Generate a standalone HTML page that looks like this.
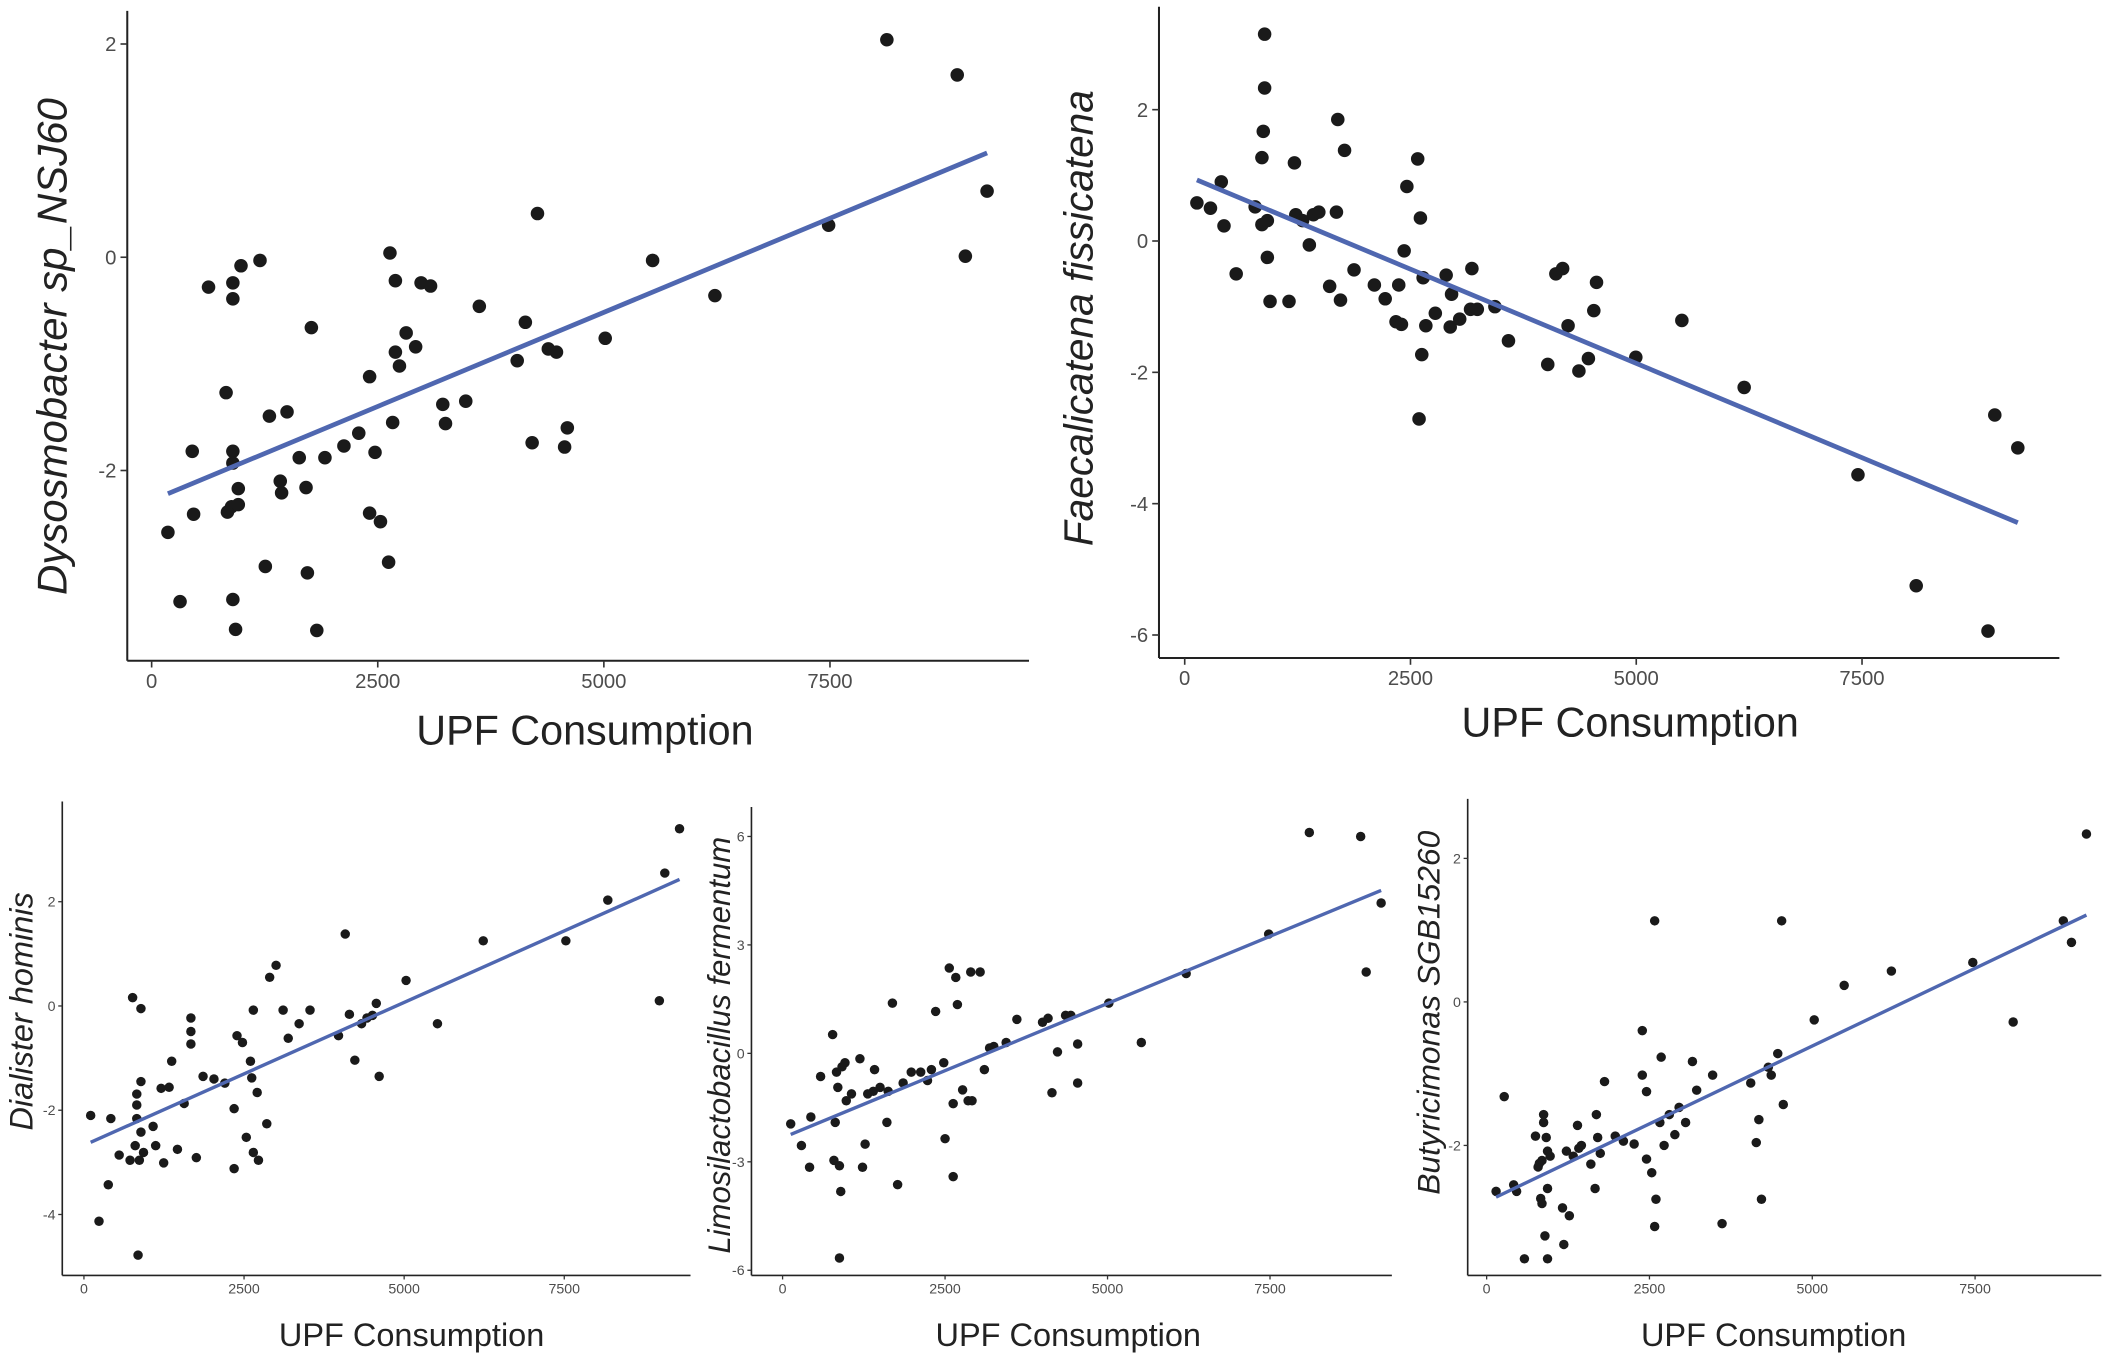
<!DOCTYPE html>
<html><head><meta charset="utf-8"><style>
html,body{margin:0;padding:0;background:#fff;}
svg{display:block;font-family:"Liberation Sans",sans-serif;}
</style></head><body>
<svg id="chart" width="2123" height="1358" viewBox="0 0 1568 1003" preserveAspectRatio="none" xmlns="http://www.w3.org/2000/svg">
<rect width="1568" height="1003" fill="#fff"/>
</svg>
<script>
const xTicks = [0, 2500, 5000, 7500];
const xTickLabels = ["0", "2500", "5000", "7500"];
const xTitle = "UPF Consumption";

const p1X = [180,314,449,464,629,823,838,883,898,898,898,898,928,958,958,988,898,1198,1257,1302,1422,1437,1497,1632,1707,1722,1766,1826,1916,2126,2290,2410,2410,2470,2530,2620,2635,2665,2695,2695,2740,2814,2919,2979,3084,3219,3249,3473,3623,4042,4132,4207,4266,4386,4476,4566,4596,5015,5539,6228,7485,8129,8907,8997,9237];
const p1Y = [-2.58,-3.23,-1.82,-2.41,-0.28,-1.27,-2.39,-2.34,-1.82,-0.24,-0.39,-3.21,-3.49,-2.32,-2.17,-0.08,-1.93,-0.03,-2.90,-1.49,-2.10,-2.21,-1.45,-1.88,-2.16,-2.96,-0.66,-3.50,-1.88,-1.77,-1.65,-1.12,-2.40,-1.83,-2.48,-2.86,0.04,-1.55,-0.22,-0.89,-1.02,-0.71,-0.84,-0.24,-0.27,-1.38,-1.56,-1.35,-0.46,-0.97,-0.61,-1.74,0.41,-0.86,-0.89,-1.78,-1.60,-0.76,-0.03,-0.36,0.30,2.04,1.71,0.01,0.62];
const p1YTicks = [2, 0, -2];

const p2X = [135,285,405,435,570,780,855,855,870,885,885,915,915,945,1155,1215,1230,1305,1380,1425,1485,1605,1680,1695,1725,1770,1875,2100,2220,2340,2370,2400,2430,2460,2595,2580,2610,2625,2640,2670,2775,2895,2940,2955,3045,3165,3180,3240,3435,3585,4020,4110,4185,4245,4365,4470,4530,4560,4995,5505,6195,7455,8100,8895,8970,9225];
const p2Y = [0.58,0.50,0.90,0.23,-0.50,0.52,1.27,0.25,1.67,2.33,3.15,-0.25,0.31,-0.92,-0.92,1.19,0.40,0.31,-0.06,0.40,0.44,-0.69,0.44,1.85,-0.90,1.38,-0.44,-0.67,-0.88,-1.23,-0.67,-1.27,-0.15,0.83,-2.71,1.25,0.35,-1.73,-0.56,-1.29,-1.10,-0.52,-1.31,-0.81,-1.19,-1.04,-0.42,-1.04,-1.00,-1.52,-1.88,-0.50,-0.42,-1.29,-1.98,-1.79,-1.06,-0.63,-1.77,-1.21,-2.23,-3.56,-5.25,-5.94,-2.65,-3.15];
const p2YTicks = [2, 0, -2, -4, -6];

const p3X = [105,235,380,420,550,720,760,800,825,825,825,845,890,890,865,890,930,1080,1120,1205,1245,1330,1370,1460,1565,1670,1670,1670,1755,1860,2030,2200,2345,2345,2390,2475,2535,2600,2620,2645,2645,2705,2725,2855,2900,3000,3110,3190,3360,3530,3975,4080,4145,4230,4335,4420,4505,4565,4610,5030,5520,6235,7525,8180,8985,9070,9300];
const p3Y = [-2.10,-4.13,-3.43,-2.16,-2.86,-2.96,0.16,-2.68,-1.90,-1.69,-2.16,-4.78,-0.05,-1.45,-2.96,-2.42,-2.81,-2.31,-2.68,-1.58,-3.01,-1.56,-1.06,-2.75,-1.87,-0.23,-0.73,-0.49,-2.91,-1.35,-1.40,-1.48,-3.12,-1.97,-0.57,-0.70,-2.52,-1.06,-1.38,-0.08,-2.81,-1.66,-2.96,-2.26,0.55,0.78,-0.08,-0.62,-0.34,-0.08,-0.57,1.38,-0.16,-1.04,-0.34,-0.23,-0.18,0.05,-1.35,0.49,-0.34,1.25,1.25,2.03,0.10,2.55,3.40];
const p3YTicks = [2, 0, -2, -4];

const p4X = [125,290,415,435,585,770,790,810,830,850,875,875,895,915,960,980,1060,1190,1230,1270,1310,1395,1415,1500,1605,1625,1690,1770,1855,1980,2125,2230,2290,2355,2480,2500,2565,2625,2625,2665,2690,2770,2855,2895,2915,3040,3105,3185,3250,3440,3605,4000,4085,4145,4230,4355,4435,4540,4540,5020,5520,6210,7480,8105,8895,8980,9210];
const p4Y = [-1.95,-2.55,-3.15,-1.76,-0.64,0.52,-2.96,-1.91,-0.52,-0.94,-3.11,-5.66,-3.82,-0.37,-0.26,-1.31,-1.12,-0.15,-3.15,-2.51,-1.12,-1.05,-0.45,-0.94,-1.91,-1.05,1.39,-3.63,-0.82,-0.52,-0.52,-0.75,-0.45,1.16,-0.26,-2.36,2.36,-1.39,-3.41,2.10,1.35,-1.01,-1.31,2.25,-1.31,2.25,-0.45,0.15,0.19,0.30,0.94,0.86,0.97,-1.09,0.04,1.05,1.05,0.26,-0.82,1.39,0.30,2.21,3.30,6.11,6.00,2.25,4.16];
const p4YTicks = [6, 3, 0, -3, -6];

const p5X = [145,270,415,460,580,750,790,810,830,850,850,875,875,895,915,935,935,935,975,1165,1185,1225,1270,1330,1395,1415,1455,1600,1665,1685,1705,1745,1810,1975,2100,2265,2390,2390,2455,2455,2535,2580,2580,2600,2660,2680,2725,2805,2890,2955,3055,3160,3225,3470,3615,4055,4140,4180,4220,4325,4370,4470,4530,4555,5030,5490,6215,7465,8085,8855,8980,9210];
const p5Y = [-2.64,-1.32,-2.55,-2.64,-3.58,-1.87,-2.30,-2.25,-2.74,-2.21,-2.81,-1.57,-1.68,-3.26,-1.89,-3.58,-2.08,-2.60,-2.15,-2.87,-3.38,-2.08,-2.98,-2.15,-1.72,-2.04,-2.00,-2.26,-2.60,-1.57,-1.89,-2.11,-1.11,-1.87,-1.94,-1.98,-1.02,-0.40,-1.25,-2.19,-2.38,1.13,-3.13,-2.75,-1.68,-0.77,-2.00,-1.57,-1.85,-1.47,-1.68,-0.83,-1.23,-1.02,-3.09,-1.13,-1.96,-1.64,-2.75,-0.91,-1.02,-0.72,1.13,-1.43,-0.25,0.23,0.43,0.55,-0.28,1.13,0.83,2.34];
const p5YTicks = [2, 0, -2];

const NS = "http://www.w3.org/2000/svg";
const svg = document.getElementById("chart");
function mk(tag, attrs, parent){const e=document.createElementNS(NS,tag);for(const k in attrs)e.setAttribute(k,attrs[k]);(parent||svg).appendChild(e);return e;}

function panel(cfg, xs, ys, yTicks){
  const g = mk("g",{});
  
  
  const sx = v => cfg.x0 + v*cfg.kx;
  const sy = v => cfg.y0 - v*cfg.ky;
  const xa = mk("line",{x1:cfg.L,x2:cfg.R,y1:cfg.B,y2:cfg.B,stroke:"#222","stroke-width":cfg.aw},g);
  
  
  const ya = mk("line",{x1:cfg.L,x2:cfg.L,y1:cfg.T,y2:cfg.B,stroke:"#222","stroke-width":cfg.aw},g);
  
  
  xTicks.forEach((t,i)=>{
    mk("line",{x1:sx(t),x2:sx(t),y1:cfg.B,y2:cfg.B+cfg.tl,stroke:"#333","stroke-width":cfg.aw*0.8},g);
    const tx = mk("text",{x:sx(t),y:cfg.B+cfg.tl+cfg.tf,"text-anchor":"middle","font-size":cfg.tf,fill:"#4d4d4d"},g);
    tx.textContent = xTickLabels[i];
    
    
  });
  yTicks.forEach(t=>{
    mk("line",{x1:cfg.L-cfg.tl,x2:cfg.L,y1:sy(t),y2:sy(t),stroke:"#333","stroke-width":cfg.aw*0.8},g);
    const ty = mk("text",{x:cfg.L-cfg.tl-cfg.tg,y:sy(t)+cfg.tf*0.35,"text-anchor":"end","font-size":cfg.tf,fill:"#4d4d4d"},g);
    ty.textContent = String(t);
    
    
  });
  xs.forEach((x,i)=>{
    const c = mk("circle",{cx:sx(x),cy:sy(ys[i]),r:cfg.r,fill:"#1a1a1a"},g);
    
    
  });
  const n=xs.length; let mx=0,my=0; for(let i=0;i<n;i++){mx+=xs[i];my+=ys[i];} mx/=n; my/=n;
  let sxy=0,sxx=0; for(let i=0;i<n;i++){sxy+=(xs[i]-mx)*(ys[i]-my);sxx+=(xs[i]-mx)**2;}
  const b=sxy/sxx, a=my-b*mx; const xmin=Math.min(...xs), xmax=Math.max(...xs);
  const ln = mk("line",{x1:sx(xmin),y1:sy(a+b*xmin),x2:sx(xmax),y2:sy(a+b*xmax),stroke:"#4f67b0","stroke-width":cfg.lw},g);
  
  
  const xt = mk("text",{x:cfg.xtx,y:cfg.xty,"text-anchor":"middle","font-size":cfg.ttf,fill:"#222"},g);
  xt.textContent = xTitle;
  
  
  const yt = mk("text",{x:0,y:0,"text-anchor":"middle","font-size":cfg.yf,"font-style":"italic",fill:"#222",transform:`translate(${cfg.ytx},${cfg.yty}) rotate(-90)`},g);
  yt.textContent = cfg.ytitle;
  
  
}

panel({name:"panel-dysosmobacter",x0:112,kx:0.0668,y0:190,ky:78.75,L:94,R:760,T:8,B:488,aw:1.5,tl:5,tg:3,tf:15,r:5,lw:3.5,ttf:30.5,xty:550,xtx:432,yf:31,ytx:49,yty:256,ytitle:"Dysosmobacter sp_NSJ60"},p1X,p1Y,p1YTicks);
panel({name:"panel-faecalicatena",x0:875,kx:0.0667,y0:178,ky:48.5,L:856,R:1521,T:5,B:486,aw:1.5,tl:5,tg:3,tf:15,r:5,lw:3.5,ttf:30.5,xty:544,xtx:1204,yf:30,ytx:807,yty:235,ytitle:"Faecalicatena fissicatena"},p2X,p2Y,p2YTicks);
panel({name:"panel-dialister",x0:62,kx:0.0473,y0:743,ky:38.5,L:46,R:510,T:592,B:942,aw:1.2,tl:3,tg:2,tf:10.5,r:3.5,lw:2.5,ttf:24,xty:994,xtx:304,yf:24,ytx:24,yty:747,ytitle:"Dialister hominis"},p3X,p3Y,p3YTicks);
panel({name:"panel-limosilactobacillus",x0:578,kx:0.048,y0:778,ky:26.7,L:555,R:1028,T:596,B:942,aw:1.2,tl:3,tg:2,tf:10.5,r:3.5,lw:2.5,ttf:24,xty:994,xtx:789,yf:23,ytx:539,yty:772,ytitle:"Limosilactobacillus fermentum"},p4X,p4Y,p4YTicks);
panel({name:"panel-butyricimonas",x0:1098,kx:0.0481,y0:740,ky:53,L:1084,R:1552,T:590,B:942,aw:1.2,tl:3,tg:2,tf:10.5,r:3.5,lw:2.5,ttf:24,xty:994,xtx:1310,yf:23.5,ytx:1063,yty:748,ytitle:"Butyricimonas SGB15260"},p5X,p5Y,p5YTicks);
</script>
</body></html>
